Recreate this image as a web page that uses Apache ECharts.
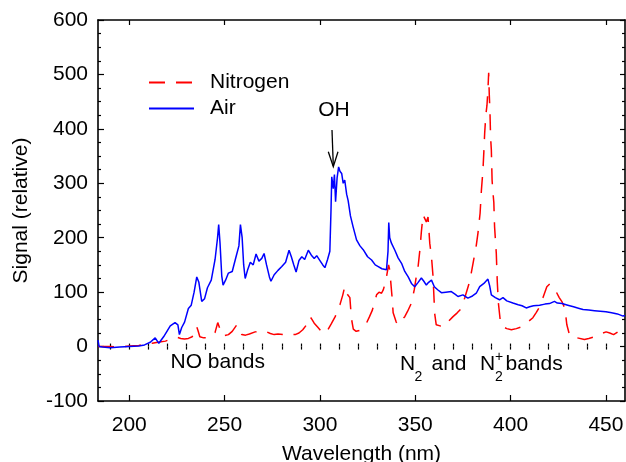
<!DOCTYPE html>
<html>
<head>
<meta charset="utf-8">
<script src="https://cdn.jsdelivr.net/npm/echarts@6/dist/echarts.min.js"></script>
<style>
  html, body { margin: 0; padding: 0; background: #fff; }
  #chart { width: 626px; height: 462px; }
</style>
</head>
<body>
<div id="chart"></div>
<script>
// 光谱数据
const airNm = [183.6, 184.2, 186, 190, 195, 200, 205, 208, 211, 213.6, 215.5, 218, 221.5, 224, 225.5, 226.3, 227.5, 229,
  231, 232.5, 234, 235.4, 236.5, 238, 239.5, 241, 243, 245, 246.3, 246.9, 247.6, 248.5, 249.2, 250.5, 252, 254, 256,
  257.5, 258.3, 259.2, 260, 260.8, 262, 263.5, 265, 266.5, 268, 269.5, 270.7, 272, 273.5, 274.3, 276, 278, 280, 282,
  283.8, 285, 286.3, 287.5, 289, 290.5, 292, 293.9, 295.5, 297, 298.3, 300, 301.5, 302.6, 304, 305.2, 305.8, 306.2,
  307, 307.6, 308.2, 309, 309.8, 310.5, 311.4, 312.2, 313, 314, 314.8, 316, 317.4, 319.2, 321, 322.7, 325, 327.1, 329,
  330.6, 332.5, 334.9, 335.7, 336.1, 336.6, 337.5, 339.3, 341, 342.8, 344.5, 346.3, 348, 349.7, 351.5, 353.2, 354.5,
  355.8, 357, 358.5, 360, 361.9, 363.7, 366, 368.9, 371, 372.4, 375, 377.6, 380, 382, 383.8, 386, 388.1, 389, 389.9,
  392, 394.2, 396, 398, 401.2, 404, 406, 408.2, 410, 412, 415.2, 418, 420.4, 423, 424.5, 427, 430, 433, 436, 438, 441,
  444, 447, 450, 453, 456, 459, 460]
const airSignal = [12, 0, -1, -2, -1, 0, 1, 3, 8, 16, 6, 18, 38, 44, 40, 22, 35, 45,
  70, 76, 100, 128, 118, 83, 88, 108, 122, 160, 200, 224, 190, 130, 113, 122, 135, 138, 165,
  185, 224, 200, 150, 125, 140, 155, 150, 170, 157, 162, 171, 150, 128, 120, 132, 140, 147, 155,
  177, 165, 150, 137, 158, 165, 160, 177, 168, 162, 167, 158, 150, 145, 160, 175, 250, 312,
  290, 316, 266, 310, 330, 322, 318, 300, 306, 280, 268, 240, 220, 196, 185, 178, 165, 159, 150,
  147, 143, 141, 175, 228, 200, 190, 177, 163, 153, 138, 128, 116, 110, 118, 126, 120,
  113, 118, 122, 110, 104, 99, 100, 101, 96, 92, 95, 89, 93, 98, 110, 116, 124, 112, 95,
  90, 86, 90, 84, 80, 77, 75, 71, 73, 75, 76, 78, 79, 83, 80, 79, 76, 73, 70, 68, 67,
  66, 65, 64, 62, 60, 56, 57]

const n2Nm = [183.6, 190, 195, 200, 205, 209, 212, 215, 219, 222, 225, 227, 229, 231, 233, 234.5, 235.3, 236, 237,
  239, 241, 243, 245, 246.4, 247.3, 248.5, 250, 252, 254, 256.4, 257.5, 259, 261, 263, 266, 268, 270, 272, 274, 276,
  278, 281, 283, 285, 287, 289, 291, 293, 294.8, 295.8, 297, 299, 301, 302.6, 304, 306, 308, 310.5, 312, 313, 314,
  315.7, 316.5, 317.5, 319, 321, 323, 324.4, 326, 327.5, 329.7, 331, 332.3, 333.2, 334.5, 336, 336.6, 337.8, 338.4,
  340, 341, 342, 344.5, 346, 348, 349.5, 350.5, 351.4, 352.4, 353.2, 354.1, 355, 355.8, 356.7, 357.6, 358.5, 359.3,
  360.2, 361, 363, 365.4, 367, 369.8, 372, 374.2, 376, 378.5, 380.3, 382, 382.9, 384, 384.7, 385.5, 386, 386.4, 387,
  387.6, 388.1, 388.5, 388.8, 389.2, 389.5, 389.9, 390.3, 390.7, 391.2, 391.6, 392.5, 393, 393.6, 394.5, 395.5, 398,
  400.4, 403, 406.4, 409, 411.7, 413.5, 415.2, 417, 419, 420.5, 422, 424, 425.5, 427, 428.5, 429.5, 431, 433, 435,
  438.7, 441, 444.9, 447, 450.1, 452, 454, 456.2, 458, 460]
const n2Signal = [0, 0, -1, 1, 2, 5, 6, 8, 10, 14, 17, 15, 14, 15, 18, 30, 37, 30, 18,
  16, 16, 18, 26, 44, 35, 21, 20, 22, 28, 40, 33, 22, 21, 23, 27, 28, 26, 27, 24, 22,
  23, 22, 24, 22, 22, 25, 31, 40, 55, 50, 43, 35, 27, 24, 30, 42, 55, 77, 95, 110, 98,
  90, 52, 32, 28, 30, 36, 43, 55, 67, 95, 100, 98, 104, 120, 150, 141, 92, 62,
  45, 40, 45, 55, 65, 80, 105, 128, 144, 177, 211, 242, 245, 229, 238, 190, 165, 130,
  60, 40, 38, 37, 45, 55, 62, 70, 90, 119, 153, 186, 209, 245, 288, 324, 360, 392, 425,
  443, 471, 503, 465, 428, 385, 361, 305, 285, 265, 220, 171, 120, 80, 50, 37, 33,
  31, 33, 37, 45, 53, 63, 73, 90, 110, 115, 108, 100, 90, 82, 70, 40, 20, 16, 16,
  13, 15, 19, 23, 27, 25, 22, 27, 29, 30]

// 坐标轴刻度
const xMajorTicks = [200, 250, 300, 350, 400, 450]
const xMinorTicks = [190, 200, 210, 220, 230, 240, 250, 260, 270, 280, 290, 300, 310, 320, 330, 340, 350,
  360, 370, 380, 390, 400, 410, 420, 430, 440, 450]

const FONT = 'Liberation Sans, Arial, sans-serif'
const zip = (xs, ys) => xs.map((x, i) => [x, ys[i]])

const chart = echarts.init(document.getElementById('chart'), null, { renderer: 'canvas' })

const frame = { show: true, onZero: false, lineStyle: { color: '#000', width: 1.6 } }

function xAxisOf(position, ticks, len, withLine, withLabel) {
  return {
    type: 'value',
    position: position,
    min: 183.6,
    max: 460,
    axisLine: withLine ? frame : { show: false },
    axisTick: { show: true, inside: true, length: len, customValues: ticks, lineStyle: { color: '#000', width: 1.2 } },
    axisLabel: withLabel
      ? { show: true, customValues: xMajorTicks, margin: 14, fontSize: 21, fontFamily: FONT, color: '#000' }
      : { show: false },
    splitLine: { show: false },
    name: withLabel ? 'Wavelength (nm)' : '',
    nameLocation: 'middle',
    nameGap: 43,
    nameTextStyle: { fontSize: 21, fontFamily: FONT, color: '#000' }
  }
}

function yAxisOf(position, withLabel) {
  return {
    type: 'value',
    position: position,
    min: -100,
    max: 600,
    interval: 100,
    axisLine: frame,
    axisTick: { show: true, inside: true, length: withLabel ? 6 : 5, lineStyle: { color: '#000', width: 1.2 } },
    minorTick: { show: true, splitNumber: 4, length: 3, lineStyle: { color: '#000', width: 1.2 } },
    axisLabel: withLabel
      ? { show: true, margin: 10, fontSize: 21, fontFamily: FONT, color: '#000' }
      : { show: false },
    splitLine: { show: false },
    name: withLabel ? 'Signal (relative)' : '',
    nameLocation: 'middle',
    nameRotate: 90,
    nameGap: 66,
    nameTextStyle: { fontSize: 21, fontFamily: FONT, color: '#000' }
  }
}

function txt(text, x, y, size, align) {
  return {
    type: 'text', x: x, y: y, z: 100,
    style: { text: text, fontSize: size, fontFamily: FONT, fill: '#000', align: align || 'left', verticalAlign: 'middle' }
  }
}

const option = {
  animation: false,
  backgroundColor: '#fff',
  grid: { left: 98, right: 1, top: 20, bottom: 61, containLabel: false, outerBoundsMode: 'none' },
  legend: {
    orient: 'vertical',
    left: 148,
    top: 72,
    padding: 0,
    itemGap: 5,
    itemWidth: 45,
    itemHeight: 14,
    itemStyle: { opacity: 0 },
    data: ['Nitrogen', 'Air'],
    textStyle: { fontSize: 21, fontFamily: FONT, color: '#000', padding: [0, 0, 0, 11] }
  },
  xAxis: [
    xAxisOf('bottom', xMajorTicks, 6, true, true),
    xAxisOf('bottom', xMinorTicks, 3, false, false),
    xAxisOf('top', xMajorTicks, 5, true, false),
    xAxisOf('top', xMinorTicks, 3, false, false)
  ],
  yAxis: [yAxisOf('left', true), yAxisOf('right', false)],
  series: [
    {
      name: 'Nitrogen',
      type: 'line',
      symbol: 'none',
      data: zip(n2Nm, n2Signal),
      lineStyle: { color: '#ff0000', width: 1.5, type: [16, 11] },
      itemStyle: { color: '#ff0000' }
    },
    {
      name: 'Air',
      type: 'line',
      symbol: 'none',
      data: zip(airNm, airSignal),
      lineStyle: { color: '#0000ff', width: 1.5 },
      itemStyle: { color: '#0000ff' }
    }
  ],
  graphic: [
    txt('OH', 334, 110, 21, 'center'),
    { type: 'polyline', z: 100, shape: { points: [[332, 130], [333.3, 166]] }, style: { stroke: '#000', lineWidth: 1.3, fill: null } },
    { type: 'polyline', z: 100, shape: { points: [[328.3, 151.7], [333.3, 166.7], [338, 151.7]] }, style: { stroke: '#000', lineWidth: 1.3, fill: null } },
    txt('NO bands', 170.5, 362, 21),
    txt('N', 400, 364, 21),
    txt('2', 414.5, 377, 14),
    txt('and', 431.5, 364, 21),
    txt('N', 480, 364, 21),
    txt('2', 495, 377, 14),
    txt('+', 495, 357, 14),
    txt('bands', 505.5, 364, 21)
  ]
}

chart.setOption(option)
window.addEventListener('resize', () => chart.resize())
</script>
</body>
</html>
